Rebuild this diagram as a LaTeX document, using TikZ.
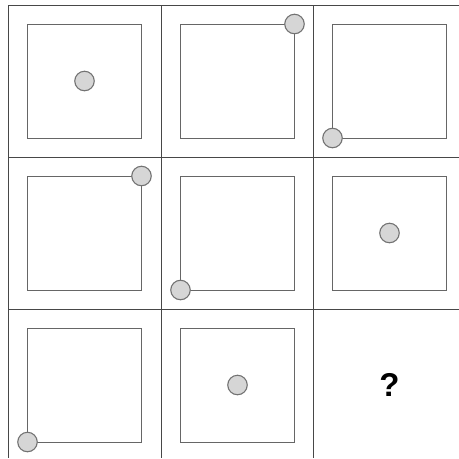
\documentclass[tikz,border=0pt]{standalone}
\usepackage{fontspec}
\setmainfont{Liberation Sans}
\begin{document}
\begin{tikzpicture}[x=1pt,y=-1pt,
  gridline/.style={draw=black!72,line width=0.9pt},
  inner/.style={draw=black!60,line width=0.9pt},
  dot/.style={circle,draw=black!55,fill=black!16,line width=1.1pt,minimum size=19.5pt,inner sep=0pt}]
\useasboundingbox (0,0) rectangle (459,459);
\fill[white] (0,0) rectangle (459,459);
% grid
\draw[gridline] (8,5) -- (459,5);
\draw[gridline] (8,157) -- (459,157);
\draw[gridline] (8,309) -- (459,309);
\draw[gridline] (8,5) -- (8,458);
\draw[gridline] (161,5) -- (161,458);
\draw[gridline] (313,5) -- (313,458);
% inner squares
\foreach \cx/\cy in {8/5,161/5,313/5,8/157,161/157,313/157,8/309,161/309}{
  \draw[inner] (\cx+19.5,\cy+19) rectangle (\cx+133.5,\cy+133);
}
% dots
\node[dot] (d11) at (84.5,81) {};
\node[dot] (d12) at (294.5,24) {};
\node[dot] (d13) at (332.5,138) {};
\node[dot] (d21) at (141.5,176) {};
\node[dot] (d22) at (180.5,290) {};
\node[dot] (d23) at (389.5,233) {};
\node[dot] (d31) at (27.5,442) {};
\node[dot] (d32) at (237.5,385) {};
\node[font=\bfseries\fontsize{33}{36}\selectfont] (q) at (389.5,385) {?};
\end{tikzpicture}
\end{document}
